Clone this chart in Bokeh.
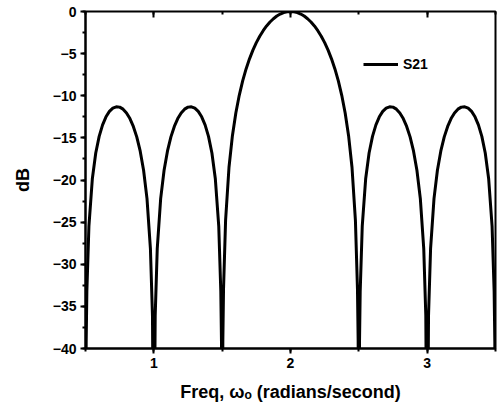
from bokeh.plotting import figure
from bokeh.models import LinearAxis, SingleIntervalTicker, Legend, LegendItem, CustomJSTickFormatter
from bokeh.embed import file_html
from bokeh.resources import INLINE

# Frequency (radians/second) and S21 (dB)
freq = [0.5, 0.505, 0.51, 0.525, 0.55, 0.575, 0.6, 0.625, 0.65, 0.675, 0.7, 0.725, 0.75, 0.775,
        0.8, 0.825, 0.85, 0.875, 0.9, 0.925, 0.95, 0.975, 0.99, 1.0, 1.01, 1.025, 1.05, 1.075,
        1.1, 1.125, 1.15, 1.175, 1.2, 1.225, 1.25, 1.275, 1.3, 1.325, 1.35, 1.375, 1.4, 1.425,
        1.45, 1.475, 1.49, 1.495, 1.5, 1.505, 1.51, 1.525, 1.55, 1.575, 1.6, 1.625, 1.65, 1.675,
        1.7, 1.725, 1.75, 1.775, 1.8, 1.825, 1.85, 1.875, 1.9, 1.925, 1.95, 1.975, 2.0,
        2.025, 2.05, 2.075, 2.1, 2.125, 2.15, 2.175, 2.2, 2.225, 2.25, 2.275, 2.3, 2.325, 2.35,
        2.375, 2.4, 2.425, 2.45, 2.475, 2.49, 2.495, 2.5, 2.505, 2.51, 2.525, 2.55, 2.575, 2.6,
        2.625, 2.65, 2.675, 2.7, 2.725, 2.75, 2.775, 2.8, 2.825, 2.85, 2.875, 2.9, 2.925, 2.95,
        2.975, 2.99, 3.0, 3.01, 3.025, 3.05, 3.075, 3.1, 3.125, 3.15, 3.175, 3.2, 3.225, 3.25,
        3.275, 3.3, 3.325, 3.35, 3.375, 3.4, 3.425, 3.45, 3.475, 3.49, 3.495, 3.5]
s21_db = [-60, -39.16, -33.21, -25.47, -19.86, -16.80, -14.82, -13.45, -12.50, -11.86, -11.47,
          -11.31, -11.35, -11.59, -12.04, -12.71, -13.64, -14.88, -16.55, -18.84, -22.21, -28.15,
          -36.08, -60, -36.08, -28.15, -22.21, -18.84, -16.55, -14.88, -13.64, -12.71, -12.04,
          -11.59, -11.35, -11.31, -11.47, -11.86, -12.50, -13.45, -14.82, -16.80, -19.86, -25.47,
          -33.21, -39.16, -60, -39.02, -32.93, -24.79, -18.49, -14.74, -12.04, -9.95, -8.24,
          -6.82, -5.62, -4.59, -3.70, -2.93, -2.28, -1.72, -1.25, -0.86, -0.54, -0.30, -0.13,
          -0.03, 0.0,
          -0.03, -0.13, -0.30, -0.54, -0.86, -1.25, -1.72, -2.28, -2.93, -3.70, -4.59, -5.62,
          -6.82, -8.24, -9.95, -12.04, -14.74, -18.49, -24.79, -32.93, -39.02, -60, -39.16,
          -33.21, -25.47, -19.86, -16.80, -14.82, -13.45, -12.50, -11.86, -11.47, -11.31, -11.35,
          -11.59, -12.04, -12.71, -13.64, -14.88, -16.55, -18.84, -22.21, -28.15, -36.08, -60,
          -36.08, -28.15, -22.21, -18.84, -16.55, -14.88, -13.64, -12.71, -12.04, -11.59, -11.35,
          -11.31, -11.47, -11.86, -12.50, -13.45, -14.82, -16.80, -19.86, -25.47, -33.21, -39.16,
          -60]

FONT = "Liberation Sans"

p = figure(width=497, height=412, x_range=(0.5, 3.5), y_range=(-40, 0),
           output_backend="svg", toolbar_location=None,
           min_border_left=85, min_border_right=2, min_border_top=11, min_border_bottom=64)
p.xgrid.visible = False
p.ygrid.visible = False
p.outline_line_color = "black"
p.outline_line_width = 2
p.background_fill_color = "white"
p.border_fill_color = "white"

r = p.line(freq, s21_db, line_color="black", line_width=3)

xt = SingleIntervalTicker(interval=1, num_minor_ticks=2)
yt = SingleIntervalTicker(interval=5, num_minor_ticks=2)
p.xaxis.ticker = xt
p.yaxis.ticker = yt

for ax in (p.xaxis[0], p.yaxis[0]):
    ax.axis_line_width = 2
    ax.axis_line_color = "black"
    ax.major_tick_line_width = 2
    ax.minor_tick_line_width = 2
    ax.major_tick_out = 5
    ax.major_tick_in = 0
    ax.minor_tick_out = 3
    ax.minor_tick_in = 0
    ax.major_label_text_font = FONT
    ax.major_label_text_font_style = "bold"
    ax.major_label_text_font_size = "14px"
    ax.major_label_text_color = "black"
    ax.axis_label_text_font = FONT
    ax.axis_label_text_font_style = "bold"
    ax.axis_label_text_font_size = "18px"
    ax.axis_label_text_color = "black"

p.yaxis.axis_label = "dB"
p.yaxis.major_label_standoff = 4
p.yaxis.axis_label_standoff = 17
p.xaxis.axis_label = "Freq, \u03c9\u2092 (radians/second)"
p.xaxis.major_label_standoff = 4
p.xaxis.axis_label_standoff = 11

top = LinearAxis(ticker=xt, axis_line_color=None,
                 formatter=CustomJSTickFormatter(code="return ''"),
                 major_tick_in=6, major_tick_out=0, minor_tick_in=3, minor_tick_out=0,
                 major_tick_line_width=2, minor_tick_line_width=2,
                 major_label_standoff=0)
p.add_layout(top, "above")

legend = Legend(items=[LegendItem(label="S21", renderers=[r])],
                location=(278, 274), padding=0, margin=0, glyph_width=35,
                label_standoff=5, border_line_color=None, background_fill_alpha=0,
                label_text_font=FONT, label_text_font_style="bold",
                label_text_font_size="14px", label_text_color="black")
p.add_layout(legend)

open("out.html", "w").write(file_html(p, INLINE))
